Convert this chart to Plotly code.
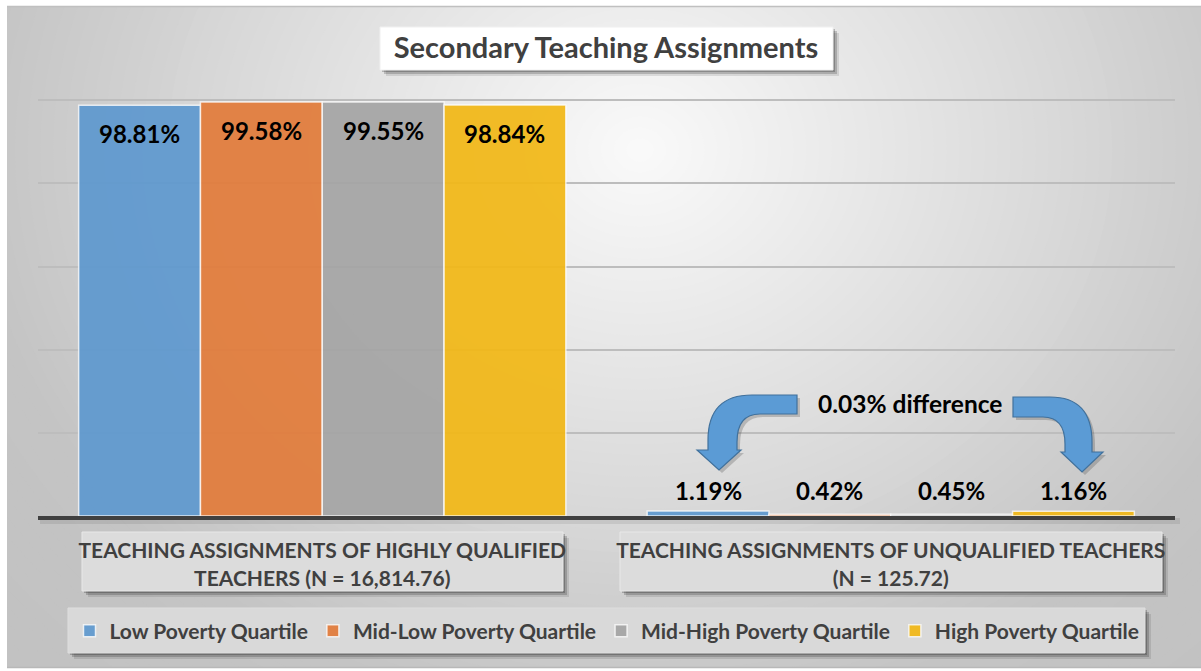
import plotly.graph_objects as go

# ---------------- data ----------------
categories = [
    "TEACHING ASSIGNMENTS OF HIGHLY QUALIFIED<br>TEACHERS (N = 16,814.76)",
    "TEACHING ASSIGNMENTS OF UNQUALIFIED TEACHERS<br>(N = 125.72)",
]
series_names = [
    "Low Poverty Quartile",
    "Mid-Low Poverty Quartile",
    "Mid-High Poverty Quartile",
    "High Poverty Quartile",
]
low_poverty = [98.81, 1.19]
mid_low_poverty = [99.58, 0.42]
mid_high_poverty = [99.55, 0.45]
high_poverty = [98.84, 1.16]
series_values = [low_poverty, mid_low_poverty, mid_high_poverty, high_poverty]
series_colors = ["#5f99cf", "#e27c3b", "#a5a5a5", "#f2b817"]
chart_title = "Secondary Teaching Assignments"
note_text = "0.03% difference"

# ---------------- geometry helpers (pixel -> paper) ----------------
W, H = 1201, 671
L, R, T, B = 38, 1175, 99, 516


def px(x):
    return (x - L) / (R - L)


def py(y):
    return (B - y) / (B - T)


FONT = "Lato"
DARK = "#404040"
BARGAP = 0.143

fig = go.Figure()
for name, vals, col in zip(series_names, series_values, series_colors):
    fig.add_trace(go.Bar(
        x=categories, y=vals, name=name,
        marker=dict(color=col, line=dict(color="rgba(255,255,255,0.8)", width=1.5)),
        opacity=0.93,
        hoverinfo="x+y+name",
    ))

shapes = []
# radial gradient background: opaque nested ellipses, outer -> inner
cx, cy = 640, 150
RX, RY = 680, 580
N = 80
for i in range(N):
    r = 1.5 - 1.48 * i / (N - 1)
    g = 250 - 54 * min(r, 1.0) - 8 * max(r - 1.0, 0.0)
    g = int(round(g))
    shapes.append(dict(type="circle", xref="paper", yref="paper",
                       x0=px(cx - RX * r), x1=px(cx + RX * r),
                       y0=py(cy + RY * r), y1=py(cy - RY * r),
                       fillcolor=f"rgb({g},{g},{g})", line=dict(width=0), layer="below"))
# white outer margins (top, left, bottom strips)
for (a, b, c, d) in ((-400, -400, 1600, 6), (-400, -400, 7, 1100), (-400, 668, 1600, 1100)):
    shapes.append(dict(type="rect", xref="paper", yref="paper",
                       x0=px(a), x1=px(c), y0=py(d), y1=py(b),
                       fillcolor="#ffffff", line=dict(width=0), layer="below"))
shapes.append(dict(type="line", xref="paper", yref="paper", x0=px(7), x1=px(1203), y0=py(6.5), y1=py(6.5),
                   line=dict(color="#c0c0c0", width=1.5), layer="below"))
shapes.append(dict(type="line", xref="paper", yref="paper", x0=px(7), x1=px(1203), y0=py(667.5), y1=py(667.5),
                   line=dict(color="#b8b8b8", width=1.5), layer="below"))


def box(x0, y0, x1, y1, fill, border, shadow=True):
    out = []
    if shadow:
        for off, a in ((6, 0.10), (4, 0.18), (2, 0.22)):
            out.append(dict(type="rect", xref="paper", yref="paper",
                            x0=px(x0 + off), x1=px(x1 + off), y0=py(y1 + off), y1=py(y0 + off),
                            fillcolor=f"rgba(0,0,0,{a})", line=dict(width=0), layer="below"))
    out.append(dict(type="rect", xref="paper", yref="paper",
                    x0=px(x0), x1=px(x1), y0=py(y1), y1=py(y0),
                    fillcolor=fill, line=dict(color=border, width=1), layer="below"))
    return out


shapes += box(380, 27, 833, 70, "#ffffff", "#f0f0f0")
shapes += box(82, 532, 563, 591, "#dcdcdc", "#e8e8e8")
shapes += box(620, 532, 1162, 591, "#dcdcdc", "#e8e8e8")
shapes += box(68, 608, 1145, 653, "#d9d9d9", "#dedede")


def path(pts):
    s = ""
    for cmd, *coords in pts:
        s += cmd
        vals = []
        for k in range(0, len(coords), 2):
            vals.append(f"{px(coords[k]):.5f},{py(coords[k + 1]):.5f}")
        s += " ".join(vals) + " "
    return s + "Z"


left_arrow = [("M", 797, 395), ("L", 752, 395), ("Q", 708, 395, 708, 440), ("L", 708, 450),
              ("L", 697, 450), ("L", 719, 470), ("L", 741, 450), ("L", 737, 450),
              ("L", 737, 442), ("Q", 737, 414, 760, 414), ("L", 797, 414)]
right_arrow = [("M", 1013, 397), ("L", 1050, 397), ("Q", 1092, 397, 1092, 442), ("L", 1092, 452),
               ("L", 1103, 452), ("L", 1082, 472), ("L", 1061, 452), ("L", 1065, 452),
               ("L", 1065, 444), ("Q", 1065, 417, 1043, 417), ("L", 1013, 417)]
for arr in (left_arrow, right_arrow):
    sh = [(c, *[v + 3 for v in co]) for c, *co in arr]
    shapes.append(dict(type="path", xref="paper", yref="paper", path=path(sh),
                       fillcolor="rgba(0,0,0,0.18)", line=dict(width=0), layer="above"))
    shapes.append(dict(type="path", xref="paper", yref="paper", path=path(arr),
                       fillcolor="#5b9bd5", line=dict(color="#41719c", width=1.2), layer="above"))

# baseline shadow
shapes.append(dict(type="rect", xref="paper", yref="paper",
                   x0=px(40), x1=px(1180), y0=py(524), y1=py(518),
                   fillcolor="rgba(0,0,0,0.08)", line=dict(width=0), layer="below"))

annotations = []
w = (1 - BARGAP) / len(series_names)
for i, vals in enumerate(series_values):
    for ci, v in enumerate(vals):
        xpos = ci + (i - (len(series_names) - 1) / 2) * w
        if v > 50:
            annotations.append(dict(x=xpos, y=v, xref="x", yref="y", text=f"{v:.2f}%",
                                    showarrow=False, xanchor="center", yanchor="top", yshift=-12,
                                    font=dict(family=FONT, size=24, color="#000000", weight="bold")))
        else:
            annotations.append(dict(x=xpos, y=0, xref="x", yref="y", text=f"{v:.2f}%",
                                    showarrow=False, xanchor="center", yanchor="bottom", yshift=9,
                                    font=dict(family=FONT, size=24, color="#000000", weight="bold")))
annotations.append(dict(x=px(910), y=py(403), xref="paper", yref="paper", text=note_text,
                        showarrow=False, xanchor="center", yanchor="middle",
                        font=dict(family=FONT, size=24.5, color="#000000", weight="bold")))

fig.update_layout(
    width=W, height=H,
    margin=dict(l=L, r=W - R, t=T, b=H - B),
    paper_bgcolor="#ffffff", plot_bgcolor="rgba(0,0,0,0)",
    barmode="group", bargap=BARGAP, bargroupgap=0,
    title=dict(text=chart_title, x=606 / W, y=1 - 48 / H, xanchor="center", yanchor="middle",
               font=dict(family=FONT, size=29, color=DARK, weight="bold")),
    xaxis=dict(showline=True, linecolor=DARK, linewidth=4, showgrid=False,
               ticks="outside", ticklen=13, tickcolor="rgba(0,0,0,0)",
               tickfont=dict(family=FONT, size=21, color=DARK, weight="bold"),
               fixedrange=True),
    yaxis=dict(range=[0, 100.3], tickvals=[20, 40, 60, 80, 100], showgrid=True,
               gridcolor="#bdbdbd", gridwidth=1.5,
               showticklabels=False, zeroline=False, showline=False, fixedrange=True),
    legend=dict(orientation="h", x=px(607), xanchor="center", y=py(631), yanchor="middle",
                bgcolor="rgba(0,0,0,0)", font=dict(family=FONT, size=21, color=DARK, weight="bold"),
                itemwidth=30, traceorder="normal"),
    shapes=shapes, annotations=annotations,
)

fig.write_html("out.html", config={"displayModeBar": False},
               post_script="document.body.style.margin='0';")
